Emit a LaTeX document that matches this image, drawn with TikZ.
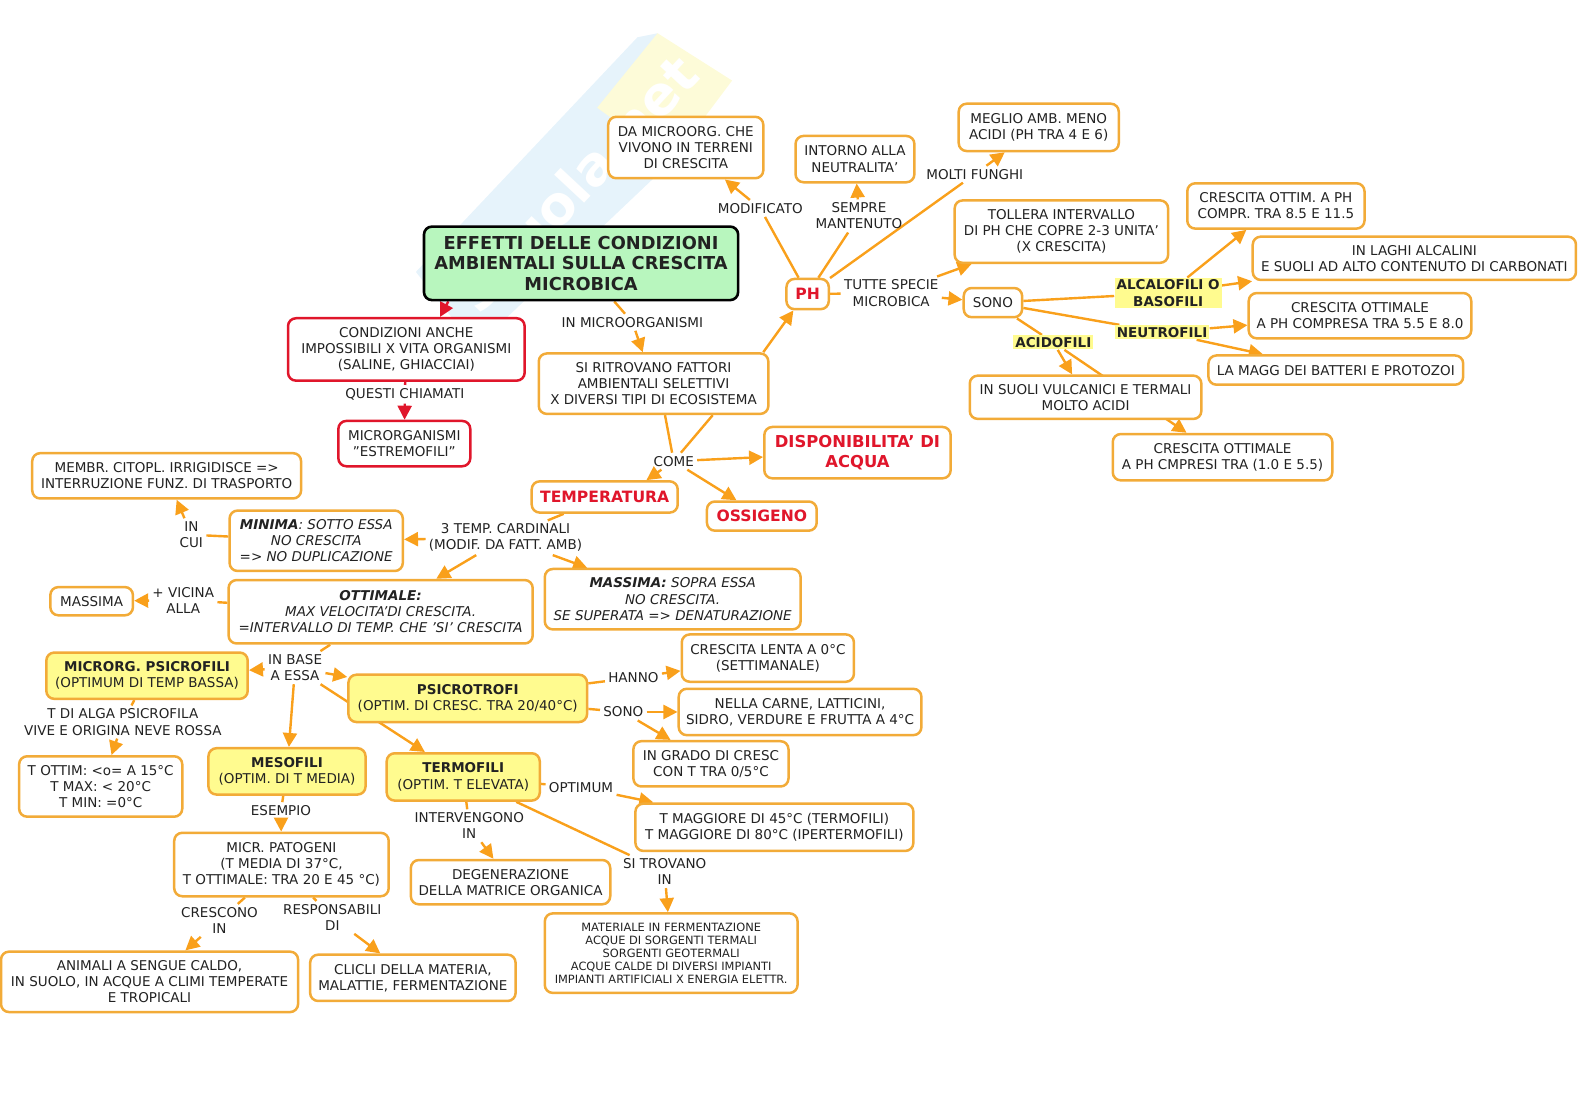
\documentclass[tikz,border=0pt]{standalone}
\usepackage{fontspec}
\setmainfont{DejaVu Sans}
\usetikzlibrary{arrows.meta,backgrounds}
\definecolor{boxc}{HTML}{F2AB38}
\definecolor{arrc}{HTML}{F9A01B}
\definecolor{redc}{HTML}{E0162B}
\definecolor{yelc}{HTML}{FFFB8F}
\definecolor{grnc}{HTML}{B8F6BE}
\definecolor{txtc}{HTML}{222222}
\definecolor{wmblue}{HTML}{E6F3FB}
\definecolor{wmyel}{HTML}{FDFBD8}
\tikzset{
	sz/.style 2 args={minimum width=#1*0.5035pt, minimum height=#2*0.5035pt},
	box/.style={draw=boxc, line width=1.25pt, rounded corners=4pt, fill=white, align=center, inner sep=0pt, text=txtc, font=\fontsize{6.75}{8.05}\selectfont},
	yelbox/.style={box, fill=yelc},
	redbox/.style={box, draw=redc},
	bigred/.style={box, text=redc, font=\fontsize{7.8}{9.6}\selectfont\bfseries},
	titlebox/.style={box, draw=black, fill=grnc, line width=1.3pt, font=\fontsize{8.9}{10.3}\selectfont\bfseries},
	lab/.style={align=center, inner sep=1.5pt, text=txtc, font=\fontsize{6.75}{8.05}\selectfont},
	hilab/.style={lab, fill=yelc, inner sep=1pt, font=\fontsize{6.75}{8.05}\selectfont\bfseries},
	link/.style={draw=arrc, line width=1.2pt},
	arr/.style={link, -{Triangle[length=7pt,width=7pt]}},
	redlink/.style={draw=redc, line width=1.2pt},
	redarr/.style={redlink, -{Triangle[length=7pt,width=7pt]}},
}
\begin{document}
\begin{tikzpicture}[x=0.5035pt,y=-0.5035pt]
	\useasboundingbox (0,0) rectangle (1568,1108.2);

	\node[titlebox, sz={312}{73}] (title) at (577,261.5) {EFFETTI DELLE CONDIZIONI\\AMBIENTALI SULLA CRESCITA\\MICROBICA};
	\node[redbox, sz={235}{62}] (cond) at (403.5,347) {CONDIZIONI ANCHE\\IMPOSSIBILI X VITA ORGANISMI\\(SALINE, GHIACCIAI)};
	\node[redbox, sz={131}{45}] (estrem) at (401.5,440.5) {MICRORGANISMI\\"ESTREMOFILI"};
	\node[box, sz={154}{61}] (terreni) at (681,146.5) {DA MICROORG. CHE\\VIVONO IN TERRENI\\DI CRESCITA};
	\node[box, sz={118}{46}] (neutral) at (849,158) {INTORNO ALLA\\NEUTRALITA'};
	\node[box, sz={159}{47}] (meglio) at (1031.5,126.5) {MEGLIO AMB. MENO\\ACIDI (PH TRA 4 E 6)};
	\node[box, sz={212}{62}] (tollera) at (1054,230) {TOLLERA INTERVALLO\\DI PH CHE COPRE 2-3 UNITA'\\(X CRESCITA)};
	\node[box, sz={176}{45}] (alcott) at (1267,204.5) {CRESCITA OTTIM. A PH\\COMPR. TRA 8.5 E 11.5};
	\node[box, sz={321}{43}] (laghi) at (1404.5,256.5) {IN LAGHI ALCALINI\\E SUOLI AD ALTO CONTENUTO DI CARBONATI};
	\node[box, sz={221}{45}] (neuott) at (1350.5,313.5) {CRESCITA OTTIMALE\\A PH COMPRESA TRA 5.5 E 8.0};
	\node[box, sz={253}{29}] (batteri) at (1326.5,367.5) {LA MAGG DEI BATTERI E PROTOZOI};
	\node[box, sz={58}{29}] (sono) at (986,300.5) {SONO};
	\node[bigred, sz={42}{30}] (ph) at (802,292) {PH};
	\node[box, sz={228}{60}] (fattori) at (649,381) {SI RITROVANO FATTORI\\AMBIENTALI SELETTIVI\\X DIVERSI TIPI DI ECOSISTEMA};
	\node[box, sz={230}{43}] (suoli) at (1078,394.5) {IN SUOLI VULCANICI E TERMALI\\MOLTO ACIDI};
	\node[box, sz={218}{46}] (acott) at (1214,454) {CRESCITA OTTIMALE\\A PH CMPRESI TRA (1.0 E 5.5)};
	\node[bigred, sz={185}{51}, font=\fontsize{8.2}{9.6}\selectfont\bfseries] (acqua) at (851.5,449.5) {DISPONIBILITA' DI\\ACQUA};
	\node[bigred, sz={145}{31}] (temp) at (600.5,493.5) {TEMPERATURA};
	\node[bigred, sz={109}{29}] (ossigeno) at (756.5,512.5) {OSSIGENO};
	\node[box, sz={267}{45}] (membr) at (165.5,472.5) {MEMBR. CITOPL. IRRIGIDISCE =>\\INTERRUZIONE FUNZ. DI TRASPORTO};
	\node[box, sz={172}{60}] (minima) at (314,537) {\textbf{\textit{MINIMA}}\textit{: SOTTO ESSA}\\\textit{NO CRESCITA}\\\textit{=> NO DUPLICAZIONE}};
	\node[box, sz={302}{63}] (ottimale) at (378,607.5) {\textbf{\textit{OTTIMALE:}}\\\textit{MAX VELOCITA'DI CRESCITA.}\\\textit{=INTERVALLO DI TEMP. CHE 'SI' CRESCITA}};
	\node[box, sz={254}{60}] (massima) at (668,595) {\textbf{\textit{MASSIMA:}}\textit{ SOPRA ESSA}\\\textit{NO CRESCITA.}\\\textit{SE SUPERATA => DENATURAZIONE}};
	\node[box, sz={82}{28}] (massimab) at (91,597) {MASSIMA};
	\node[yelbox, sz={200}{46}] (psicrofili) at (146,671) {\textbf{MICRORG. PSICROFILI}\\(OPTIMUM DI TEMP BASSA)};
	\node[yelbox, sz={237}{47}] (psicrotrofi) at (464.5,693.5) {\textbf{PSICROTROFI}\\(OPTIM. DI CRESC. TRA 20/40°C)};
	\node[box, sz={171}{47}] (lenta) at (762.5,653.5) {CRESCITA LENTA A 0°C\\(SETTIMANALE)};
	\node[box, sz={241}{46}] (carne) at (794.5,707) {NELLA CARNE, LATTICINI,\\SIDRO, VERDURE E FRUTTA A 4°C};
	\node[box, sz={154}{45}] (grado) at (706,758.5) {IN GRADO DI CRESC\\CON T TRA 0/5°C};
	\node[box, sz={162}{60}] (tottim) at (100,781) {T OTTIM: <o= A 15°C\\T MAX: < 20°C\\T MIN: =0°C};
	\node[yelbox, sz={156}{46}] (mesofili) at (285,766) {\textbf{MESOFILI}\\(OPTIM. DI T MEDIA)};
	\node[yelbox, sz={152}{47}] (termofili) at (460,771.5) {\textbf{TERMOFILI}\\(OPTIM. T ELEVATA)};
	\node[box, sz={276}{47}] (tmagg) at (769,821.5) {T MAGGIORE DI 45°C (TERMOFILI)\\T MAGGIORE DI 80°C (IPERTERMOFILI)};
	\node[box, sz={213}{63}] (patogeni) at (279.5,858.5) {MICR. PATOGENI\\(T MEDIA DI 37°C,\\T OTTIMALE: TRA 20 E 45 °C)};
	\node[box, sz={198}{44}] (matrice) at (507,876) {DEGENERAZIONE\\DELLA MATRICE ORGANICA};
	\node[box, sz={251}{79}, font=\fontsize{5.7}{6.5}\selectfont] (ferment) at (666.5,946.5) {MATERIALE IN FERMENTAZIONE\\ACQUE DI SORGENTI TERMALI\\SORGENTI GEOTERMALI\\ACQUE CALDE DI DIVERSI IMPIANTI\\IMPIANTI ARTIFICIALI X ENERGIA ELETTR.};
	\node[box, sz={295}{60}] (animali) at (148.5,975) {ANIMALI A SENGUE CALDO,\\IN SUOLO, IN ACQUE A CLIMI TEMPERATE\\E TROPICALI};
	\node[box, sz={204}{46}] (clicli) at (410,971) {CLICLI DELLA MATERIA,\\MALATTIE, FERMENTAZIONE};

	\node[lab] (lmodif) at (755,207) {MODIFICATO};
	\node[lab] (lsempre) at (853,214.5) {SEMPRE\\MANTENUTO};
	\node[lab] (lfunghi) at (968,173) {MOLTI FUNGHI};
	\node[lab] (ltutte) at (885,291) {TUTTE SPECIE\\MICROBICA};
	\node[lab] (lmicro) at (628,320) {IN MICROORGANISMI};
	\node[lab] (lquesti) at (402,391.5) {QUESTI CHIAMATI};
	\node[lab] (lcome) at (669,458) {COME};
	\node[lab] (lcard) at (502,534) {3 TEMP. CARDINALI\\(MODIF. DA FATT. AMB)};
	\node[lab] (lcui) at (190,531) {IN\\CUI};
	\node[lab] (lvicina) at (182,596) {+ VICINA\\ALLA};
	\node[lab] (lbase) at (293,663) {IN BASE\\A ESSA};
	\node[lab] (lhanno) at (629,673) {HANNO};
	\node[lab] (lsono) at (619,707) {SONO};
	\node[lab] (lalga) at (122,717) {T DI ALGA PSICROFILA\\VIVE E ORIGINA NEVE ROSSA};
	\node[lab] (loptimum) at (577,782) {OPTIMUM};
	\node[lab] (lesempio) at (279,805) {ESEMPIO};
	\node[lab] (linterv) at (466,820) {INTERVENGONO\\IN};
	\node[lab] (ltrovano) at (660,865.5) {SI TROVANO\\IN};
	\node[lab] (lcrescono) at (218,914) {CRESCONO\\IN};
	\node[lab] (lrespons) at (330,911) {RESPONSABILI\\DI};
	\node[hilab] (lalcalo) at (1160,291) {ALCALOFILI O\\BASOFILI};
	\node[hilab] (lneutro) at (1154,330) {NEUTROFILI};
	\node[hilab] (lacido) at (1046,340) {ACIDOFILI};

	\begin{pgfonlayer}{background}
		\fill[wmblue] (413,270) -- (633,37) -- (653,33) -- (667,160) -- (472,345) -- cycle;
		\fill[wmyel] (653,33) -- (727,80) -- (667,160) -- (593,107) -- cycle;
		\node[rotate=47, text=white, font=\fontsize{27}{27}\selectfont\bfseries] (wmark) at (572,182) {Skuola.net};

		\draw[redarr] (title.196) -- (cond.44);
		\draw[redlink] (cond) -- (lquesti);
		\draw[redarr] (lquesti) -- (estrem);
		\draw[link] (title) -- (lmicro);
		\draw[arr] (lmicro) -- (fattori);
		\draw[arr] (fattori.16) -- (ph.229);
		\draw[link] (ph) -- (lmodif);
		\draw[arr] (lmodif) -- (terreni);
		\draw[link] (ph) -- (lsempre);
		\draw[arr] (lsempre) -- (neutral);
		\draw[link] (ph) -- (lfunghi);
		\draw[arr] (lfunghi) -- (meglio);
		\draw[link] (ph) -- (ltutte);
		\draw[arr] (ltutte) -- (tollera);
		\draw[arr] (ltutte) -- (sono);
		\draw[link] (sono) -- (lalcalo);
		\draw[arr] (lalcalo) -- (alcott);
		\draw[arr] (lalcalo) -- (laghi);
		\draw[link] (sono) -- (lneutro);
		\draw[arr] (lneutro) -- (neuott);
		\draw[arr] (lneutro) -- (batteri);
		\draw[link] (sono) -- (lacido);
		\draw[arr] (lacido) -- (suoli);
		\draw[arr] (lacido) -- (acott);
		\draw[link] (fattori.290) -- (lcome);
		\draw[link] (fattori.332) -- (lcome);
		\draw[arr] (lcome) -- (acqua);
		\draw[arr] (lcome) -- (temp.22);
		\draw[arr] (lcome) -- (ossigeno.148);
		\draw[link] (temp) -- (lcard);
		\draw[arr] (lcard) -- (minima);
		\draw[arr] (lcard) -- (ottimale);
		\draw[arr] (lcard) -- (massima);
		\draw[link] (minima) -- (lcui);
		\draw[arr] (lcui) -- (membr);
		\draw[link] (ottimale) -- (lvicina);
		\draw[arr] (lvicina) -- (massimab);
		\draw[link] (ottimale) -- (lbase);
		\draw[arr] (lbase) -- (psicrofili);
		\draw[arr] (lbase) -- (psicrotrofi);
		\draw[arr] (lbase) -- (mesofili);
		\draw[arr] (lbase) -- (termofili);
		\draw[link] (psicrotrofi) -- (lhanno);
		\draw[arr] (lhanno) -- (lenta);
		\draw[link] (psicrotrofi) -- (lsono);
		\draw[arr] (lsono) -- (carne);
		\draw[arr] (lsono) -- (grado);
		\draw[link] (psicrofili) -- (lalga);
		\draw[arr] (lalga) -- (tottim);
		\draw[link] (mesofili) -- (lesempio);
		\draw[arr] (lesempio) -- (patogeni);
		\draw[link] (termofili) -- (loptimum);
		\draw[arr] (loptimum) -- (tmagg);
		\draw[link] (termofili) -- (linterv);
		\draw[arr] (linterv) -- (matrice);
		\draw[link] (termofili) -- (ltrovano);
		\draw[arr] (ltrovano) -- (ferment);
		\draw[link] (patogeni) -- (lcrescono);
		\draw[arr] (lcrescono) -- (animali);
		\draw[link] (patogeni) -- (lrespons);
		\draw[arr] (lrespons) -- (clicli);
	\end{pgfonlayer}
\end{tikzpicture}
\end{document}
